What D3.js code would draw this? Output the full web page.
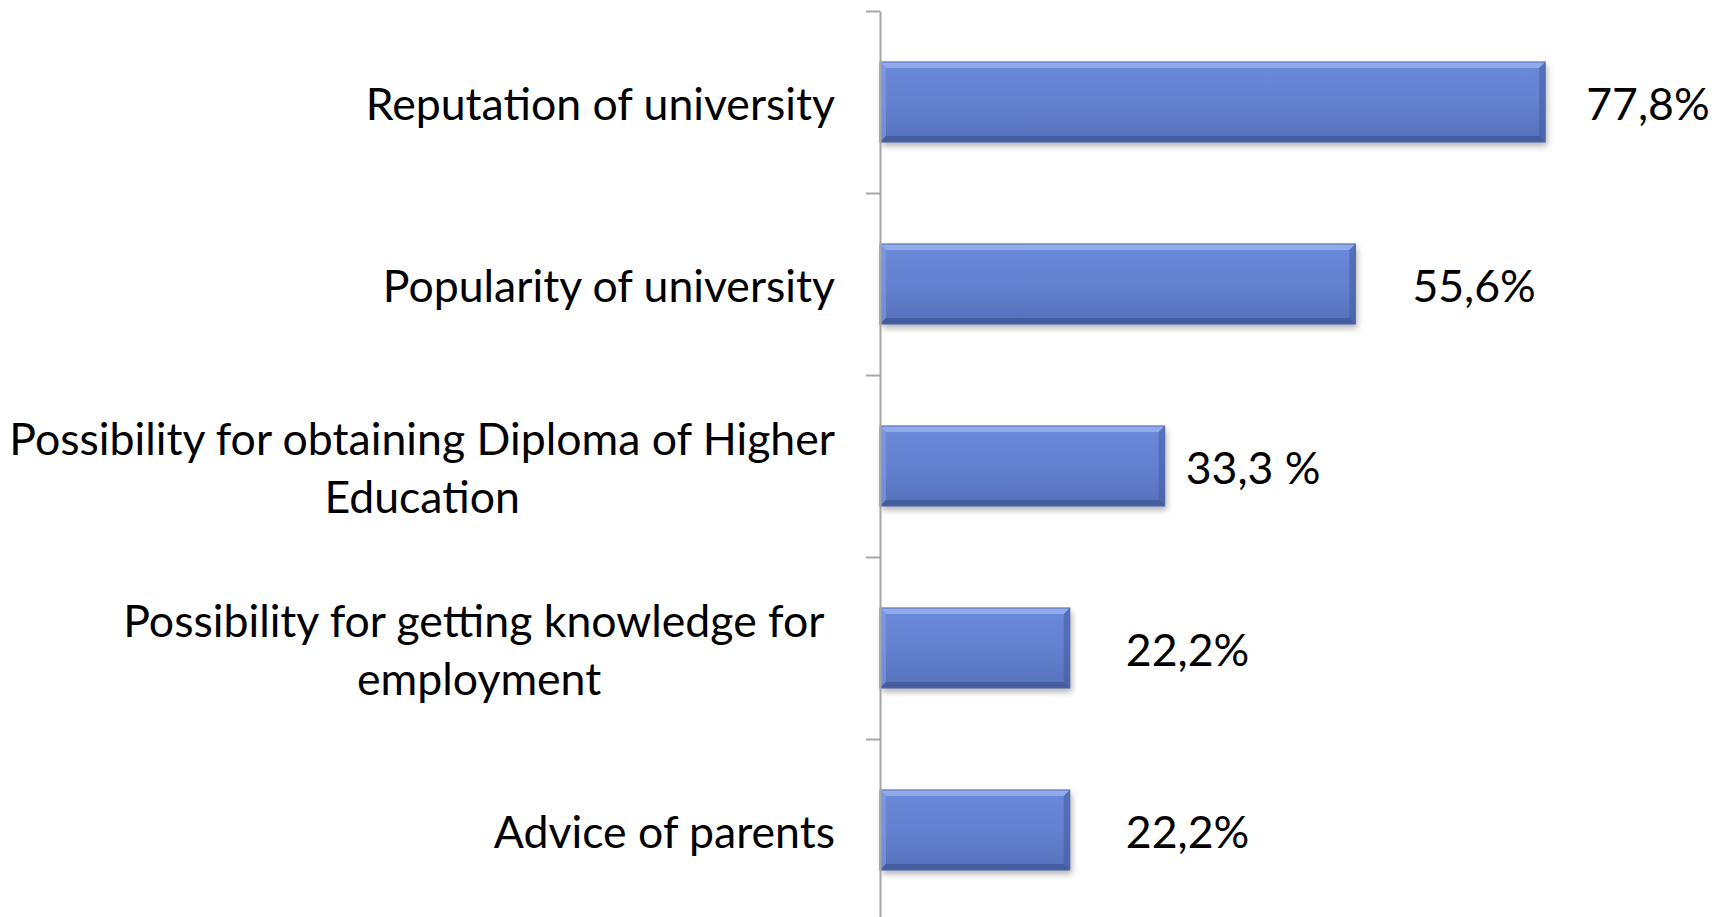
<!DOCTYPE html>
<html>
<head>
<meta charset="utf-8">
<script src="https://cdn.jsdelivr.net/npm/d3@7/dist/d3.min.js"></script>
<style>
  html, body { margin: 0; padding: 0; background: #fff; }
  svg { display: block; }
</style>
</head>
<body>
<div id="chart"></div>
<script>
'use strict';

// ─── Data ─────────────────────────────────────────────────────────────────────
const categories = [
  ['Reputation of university'],
  ['Popularity of university'],
  ['Possibility for obtaining Diploma of Higher', 'Education'],
  ['Possibility for getting knowledge for ', 'employment'],
  ['Advice of parents'],
];
const values      = [77.8, 55.6, 33.3, 22.2, 22.2];
const valueLabels = ['77,8%', '55,6%', '33,3 %', '22,2%', '22,2%'];

// ─── Layout ───────────────────────────────────────────────────────────────────
const W = 1712, H = 917;
const AXIS_X   = 880;
const TOP      = 11;
const STEP     = 182;
const FONT     = 'Lato, "Open Sans", sans-serif';
const FONT_PX  = 44.6;
const LABEL_RIGHT = 835;
// value labels were placed by hand in the original, so gaps differ a bit
const LABEL_GAP = [41, 57, 21, 56, 56];

const svg = d3.select('#chart').append('svg')
  .attr('width', W).attr('height', H);

const defs = svg.append('defs');
const grad = defs.append('linearGradient')
  .attr('id', 'barFill').attr('x1', 0).attr('y1', 0).attr('x2', 0).attr('y2', 1);
grad.append('stop').attr('offset', '0%').attr('stop-color', '#6A8ADA');
grad.append('stop').attr('offset', '55%').attr('stop-color', '#6180CE');
grad.append('stop').attr('offset', '100%').attr('stop-color', '#5670BA');

const shadow = defs.append('filter').attr('id', 'shadow')
  .attr('x', '-5%').attr('y', '-10%').attr('width', '115%').attr('height', '140%');
shadow.append('feDropShadow')
  .attr('dx', 2).attr('dy', 4).attr('stdDeviation', 3)
  .attr('flood-color', '#000').attr('flood-opacity', 0.3);

// ─── Scales ───────────────────────────────────────────────────────────────────
const idx = d3.range(categories.length);
const y = d3.scaleBand()
  .domain(idx)
  .range([TOP, TOP + STEP * categories.length])
  .paddingInner(0.56)
  .paddingOuter(0.28);

const yTicks = d3.scaleLinear()
  .domain([0, categories.length])
  .range([TOP, TOP + STEP * categories.length]);

const x = d3.scaleLinear()
  .domain([0, 80])
  .range([AXIS_X, AXIS_X + 8.55 * 80]);

// ─── Bars ─────────────────────────────────────────────────────────────────────
const BEVEL = 6;
const bars = svg.append('g').selectAll('g.bar')
  .data(idx)
  .join('g')
  .attr('class', 'bar')
  .attr('transform', i => `translate(${x(0)},${y(i)})`);

bars.append('rect')
  .attr('width', i => x(values[i]) - x(0))
  .attr('height', y.bandwidth())
  .attr('fill', 'url(#barFill)')
  .attr('filter', 'url(#shadow)');

// bevel edges
bars.each(function(i) {
  const g = d3.select(this);
  const w = x(values[i]) - x(0), h = y.bandwidth(), b = BEVEL;
  g.append('polygon')   // top
    .attr('points', `0,0 ${w},0 ${w - b},${b} ${b},${b}`)
    .attr('fill', '#9FB5EE').attr('opacity', 0.75);
  g.append('polygon')   // left
    .attr('points', `0,0 ${b},${b} ${b},${h - b} 0,${h}`)
    .attr('fill', '#86A0E4').attr('opacity', 0.55);
  g.append('polygon')   // right
    .attr('points', `${w},0 ${w},${h} ${w - b},${h - b} ${w - b},${b}`)
    .attr('fill', '#3F5899').attr('opacity', 0.5);
  g.append('polygon')   // bottom
    .attr('points', `0,${h} ${b},${h - b} ${w - b},${h - b} ${w},${h}`)
    .attr('fill', '#3A528F').attr('opacity', 0.65);
  g.append('rect')
    .attr('width', w).attr('height', h)
    .attr('fill', 'none').attr('stroke', '#4F69AC').attr('stroke-width', 1);
});

// ─── Axis ─────────────────────────────────────────────────────────────────────
const axisG = svg.append('g')
  .attr('transform', `translate(${AXIS_X},0)`)
  .call(d3.axisLeft(yTicks)
    .tickValues(d3.range(categories.length + 1))
    .tickFormat('')
    .tickSizeInner(14)
    .tickSizeOuter(0));
axisG.select('.domain').attr('stroke', '#A6A6A6').attr('stroke-width', 2);
axisG.selectAll('.tick line').attr('stroke', '#A6A6A6').attr('stroke-width', 2);

// ─── Category labels ─────────────────────────────────────────────────────────
const catG = svg.append('g')
  .attr('font-family', FONT)
  .attr('font-size', FONT_PX)
  .attr('fill', '#000');

idx.forEach(i => {
  const lines = categories[i];
  const lineH = 57.5;
  const cy = y(i) + y.bandwidth() / 2;
  const t = catG.append('text')
    .attr('text-anchor', 'middle')
    .attr('dominant-baseline', 'central')
    .attr('xml:space', 'preserve');
  const spans = lines.map((ln, k) => t.append('tspan')
    .attr('y', cy + (k - (lines.length - 1) / 2) * lineH)
    .text(ln));
  const maxW = d3.max(spans, s => s.node().getComputedTextLength());
  spans.forEach(s => s.attr('x', LABEL_RIGHT - maxW / 2));
});

// ─── Value labels ─────────────────────────────────────────────────────────────
svg.append('g')
  .attr('font-family', FONT)
  .attr('font-size', FONT_PX)
  .attr('fill', '#000')
  .selectAll('text')
  .data(idx)
  .join('text')
  .attr('x', i => x(values[i]) + LABEL_GAP[i])
  .attr('y', i => y(i) + y.bandwidth() / 2)
  .attr('dominant-baseline', 'central')
  .attr('xml:space', 'preserve')
  .text(i => valueLabels[i]);
</script>
</body>
</html>
